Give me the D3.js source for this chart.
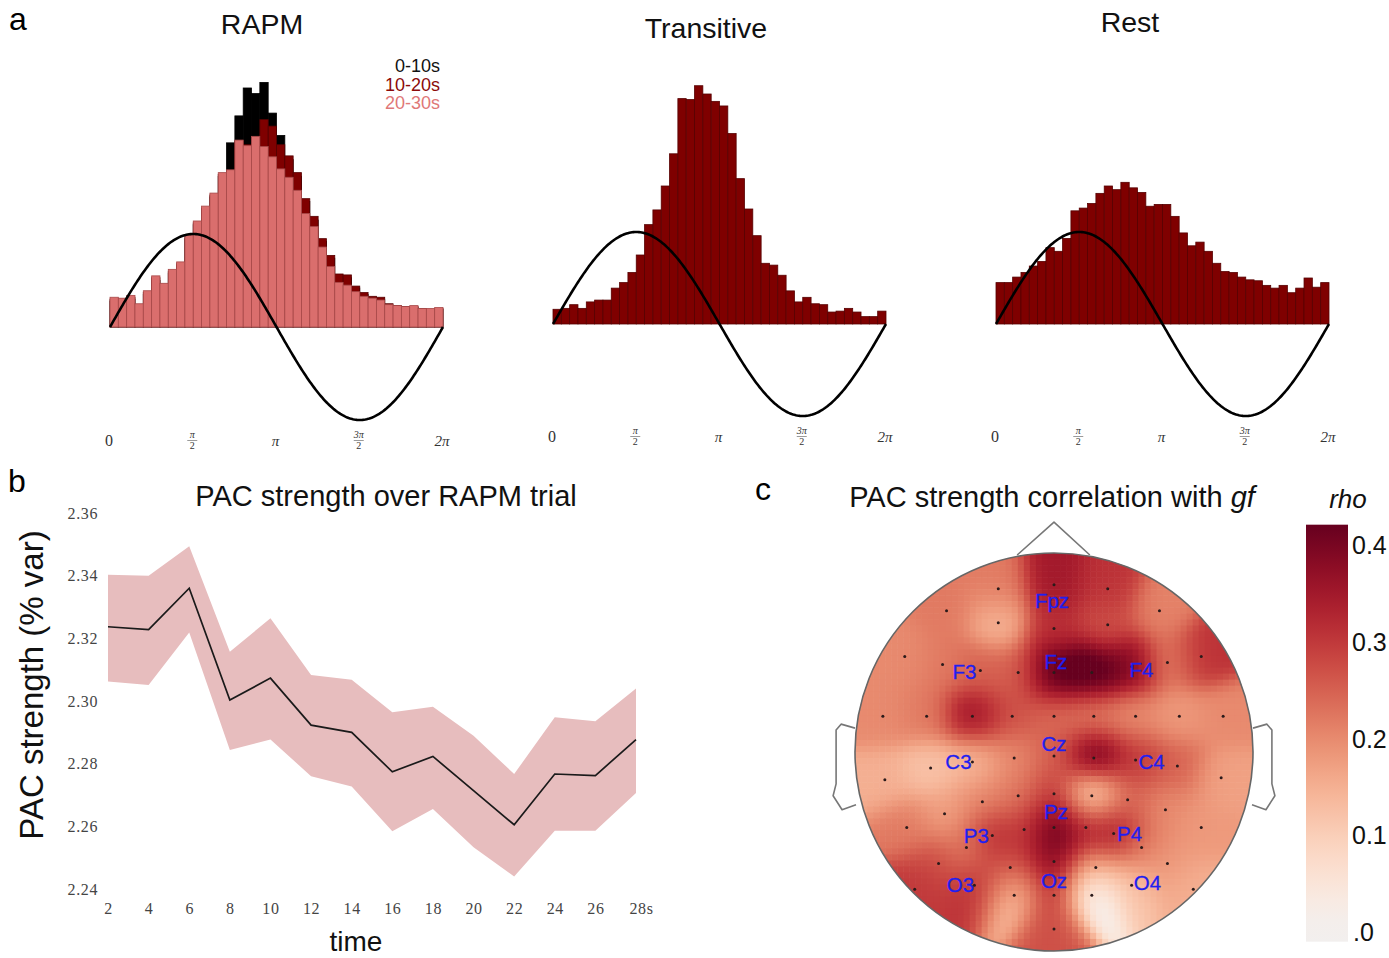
<!DOCTYPE html>
<html>
<head>
<meta charset="utf-8">
<script src="https://cdnjs.cloudflare.com/ajax/libs/d3/7.8.5/d3.min.js"></script>
<style>
  body { margin: 0; background: #fff; }
  svg { display: block; font-family: "Liberation Sans", Arial, sans-serif; }
</style>
</head>
<body>
<script>

// ---- panel a : phase histograms (40 bins over 0..2pi, height relative to sine amplitude)
var phaseTickValues = [0, Math.PI / 2, Math.PI, 3 * Math.PI / 2, 2 * Math.PI];
var phaseTickLabels = [["0"], ["π", "2"], ["π"], ["3π", "2"], ["2π"]];

var rapmWindows = ["0-10s", "10-20s", "20-30s"];

var rapmEarly = [0.28, 0.29, 0.30, 0.22, 0.35, 0.50, 0.44, 0.58, 0.66, 0.95,
  1.10, 1.26, 1.40, 1.62, 1.98, 2.27, 2.57, 2.51, 2.63, 2.30,
  2.06, 1.80, 1.62, 1.35, 1.15, 0.92, 0.74, 0.55, 0.53, 0.42,
  0.35, 0.31, 0.30, 0.23, 0.22, 0.21, 0.21, 0.19, 0.18, 0.19];

var rapmMid = [0.30, 0.30, 0.32, 0.24, 0.37, 0.53, 0.46, 0.60, 0.68, 0.97,
  1.12, 1.28, 1.42, 1.64, 1.67, 2.00, 1.96, 2.04, 2.23, 2.16,
  1.96, 1.84, 1.66, 1.38, 1.19, 0.95, 0.77, 0.57, 0.56, 0.44,
  0.37, 0.33, 0.32, 0.25, 0.23, 0.22, 0.22, 0.20, 0.19, 0.20];

var rapmLate = [0.32, 0.31, 0.34, 0.25, 0.39, 0.55, 0.47, 0.62, 0.70, 0.99,
  1.14, 1.30, 1.44, 1.66, 1.69, 2.01, 1.95, 2.05, 1.94, 1.83,
  1.70, 1.61, 1.47, 1.22, 1.08, 0.86, 0.65, 0.48, 0.45, 0.38,
  0.33, 0.31, 0.29, 0.24, 0.23, 0.22, 0.23, 0.20, 0.20, 0.21];

var transitiveHist = [0.16, 0.17, 0.21, 0.17, 0.24, 0.26, 0.26, 0.39, 0.45, 0.56,
  0.75, 1.08, 1.24, 1.50, 1.85, 2.45, 2.44, 2.59, 2.50, 2.42,
  2.37, 2.07, 1.58, 1.25, 0.96, 0.66, 0.64, 0.53, 0.36, 0.24,
  0.29, 0.22, 0.21, 0.13, 0.14, 0.17, 0.13, 0.08, 0.08, 0.14];

var restHist = [0.45, 0.45, 0.51, 0.56, 0.63, 0.68, 0.83, 0.79, 0.93, 1.23,
  1.26, 1.31, 1.42, 1.50, 1.46, 1.54, 1.48, 1.43, 1.28, 1.30,
  1.30, 1.17, 0.99, 0.85, 0.89, 0.79, 0.66, 0.57, 0.56, 0.51,
  0.48, 0.47, 0.42, 0.39, 0.42, 0.34, 0.39, 0.50, 0.40, 0.45];

// ---- panel b : PAC strength over RAPM trial
var timeSec = [2, 4, 6, 8, 10, 12, 14, 16, 18, 20, 22, 24, 26, 28];
var pacMean  = [2.3237, 2.3228, 2.3360, 2.3003, 2.3073, 2.2923, 2.2900, 2.2774, 2.2823, 2.2714, 2.2605, 2.2767, 2.2762, 2.2877];
var pacUpper = [2.3403, 2.3400, 2.3494, 2.3157, 2.3264, 2.3083, 2.3068, 2.2964, 2.2982, 2.2889, 2.2767, 2.2948, 2.2935, 2.3040];
var pacLower = [2.3062, 2.3051, 2.3219, 2.2844, 2.2877, 2.2760, 2.2727, 2.2584, 2.2655, 2.2533, 2.2440, 2.2586, 2.2586, 2.2706];
var pacTicks = [2.24, 2.26, 2.28, 2.30, 2.32, 2.34, 2.36];

// ---- panel c : electrode layout (unit head circle) and rho with gf
var electrodes = [
  {x: -0.28, y: -0.82, rho: 0.22}, {x: 0.00, y: -0.84, rho: 0.35}, {x: 0.27, y: -0.82, rho: 0.31},
  {x: -0.54, y: -0.71, rho: 0.22}, {x: -0.28, y: -0.65, rho: 0.14}, {x: 0.00, y: -0.62, rho: 0.31},
  {x: 0.27, y: -0.64, rho: 0.27}, {x: 0.53, y: -0.71, rho: 0.21},
  {x: -0.75, y: -0.48, rho: 0.20}, {x: -0.56, y: -0.44, rho: 0.22}, {x: -0.37, y: -0.41, rho: 0.25},
  {x: -0.18, y: -0.40, rho: 0.25}, {x: 0.00, y: -0.40, rho: 0.45}, {x: 0.19, y: -0.40, rho: 0.45},
  {x: 0.39, y: -0.43, rho: 0.40}, {x: 0.57, y: -0.45, rho: 0.21}, {x: 0.74, y: -0.48, rho: 0.31},
  {x: -0.86, y: -0.18, rho: 0.20}, {x: -0.64, y: -0.18, rho: 0.22}, {x: -0.41, y: -0.18, rho: 0.36},
  {x: -0.21, y: -0.18, rho: 0.27}, {x: 0.00, y: -0.18, rho: 0.24}, {x: 0.20, y: -0.18, rho: 0.22},
  {x: 0.41, y: -0.18, rho: 0.20}, {x: 0.63, y: -0.18, rho: 0.18}, {x: 0.85, y: -0.18, rho: 0.20},
  {x: -0.85, y: 0.14, rho: 0.15}, {x: -0.62, y: 0.08, rho: 0.12}, {x: -0.41, y: 0.05, rho: 0.14},
  {x: -0.20, y: 0.03, rho: 0.20}, {x: 0.00, y: 0.02, rho: 0.25}, {x: 0.20, y: 0.03, rho: 0.43},
  {x: 0.41, y: 0.04, rho: 0.30}, {x: 0.62, y: 0.07, rho: 0.25}, {x: 0.84, y: 0.13, rho: 0.17},
  {x: -0.55, y: 0.31, rho: 0.17}, {x: -0.36, y: 0.25, rho: 0.20}, {x: -0.18, y: 0.22, rho: 0.22},
  {x: 0.00, y: 0.21, rho: 0.30}, {x: 0.19, y: 0.22, rho: 0.04}, {x: 0.37, y: 0.24, rho: 0.25},
  {x: 0.56, y: 0.29, rho: 0.20},
  {x: -0.74, y: 0.38, rho: 0.22}, {x: -0.31, y: 0.42, rho: 0.34}, {x: -0.15, y: 0.39, rho: 0.28},
  {x: 0.00, y: 0.38, rho: 0.45}, {x: 0.16, y: 0.38, rho: 0.33}, {x: 0.30, y: 0.41, rho: 0.36},
  {x: 0.74, y: 0.38, rho: 0.18},
  {x: -0.44, y: 0.48, rho: 0.20}, {x: 0.44, y: 0.48, rho: 0.22},
  {x: -0.58, y: 0.56, rho: 0.28}, {x: -0.22, y: 0.58, rho: 0.27}, {x: 0.00, y: 0.55, rho: 0.38},
  {x: 0.21, y: 0.58, rho: 0.16}, {x: 0.57, y: 0.56, rho: 0.18},
  {x: -0.70, y: 0.69, rho: 0.30}, {x: -0.40, y: 0.67, rho: 0.31}, {x: -0.20, y: 0.72, rho: 0.12},
  {x: 0.00, y: 0.72, rho: 0.31}, {x: 0.19, y: 0.72, rho: -0.02}, {x: 0.39, y: 0.67, rho: 0.12},
  {x: 0.70, y: 0.69, rho: 0.15},
  {x: 0.00, y: 0.89, rho: 0.27}
];

var labelNames = ["Fpz", "Fz", "F3", "F4", "C3", "Cz", "C4", "P3", "Pz", "P4", "O3", "Oz", "O4"];
var labelX = [-0.01, 0.01, -0.45, 0.44, -0.48, 0.00, 0.49, -0.39, 0.01, 0.38, -0.47, 0.00, 0.47];
var labelY = [-0.76, -0.45, -0.40, -0.41, 0.05, -0.04, 0.05, 0.42, 0.30, 0.41, 0.67, 0.65, 0.66];

var rhoTicks = [0, 0.1, 0.2, 0.3, 0.4];

// ------------------------------------------------------------------
var svg = d3.select("body").append("svg")
  .attr("width", 1389)
  .attr("height", 958);

svg.append("rect").attr("width", 1389).attr("height", 958).attr("fill", "#fff");

// panel letters
svg.append("text").attr("x", 9).attr("y", 30).attr("font-size", 32).text("a");
svg.append("text").attr("x", 8).attr("y", 492).attr("font-size", 32).text("b");
svg.append("text").attr("x", 755).attr("y", 500).attr("font-size", 32).text("c");

function drawHist(cfg, series) {
  var g = svg.append("g");
  var x = d3.scaleLinear().domain([0, 2 * Math.PI]).range([cfg.x0, cfg.x1]);
  var y = d3.scaleLinear().domain([-1, 1]).range([cfg.base + cfg.amp, cfg.base - cfg.amp]);
  var binW = 2 * Math.PI / 40;

  series.forEach(function(s) {
    g.append("g").selectAll("rect")
      .data(s.values)
      .join("rect")
      .attr("x", (d, i) => x(i * binW))
      .attr("width", x(binW) - x(0))
      .attr("y", d => y(d))
      .attr("height", d => y(0) - y(d))
      .attr("fill", s.fill)
      .attr("stroke", s.edge)
      .attr("stroke-width", 0.8);
  });

  // reference phase of the low frequency oscillation
  var phase = d3.range(0, 2 * Math.PI + 0.0001, Math.PI / 120);
  g.append("path")
    .datum(phase)
    .attr("fill", "none")
    .attr("stroke", "#000")
    .attr("stroke-width", 2.6)
    .attr("d", d3.line().x(d => x(d)).y(d => y(Math.sin(d))));

  // phase tick labels
  var ticks = g.selectAll("g.ptick")
    .data(phaseTickValues)
    .join("g")
    .attr("class", "ptick")
    .attr("transform", d => `translate(${x(d) - 1}, ${cfg.tickY})`)
    .attr("font-family", "'Liberation Serif', 'DejaVu Serif', serif")
    .attr("fill", "#333")
    .attr("text-anchor", "middle");

  ticks.each(function(d, i) {
    var lab = phaseTickLabels[i];
    var t = d3.select(this);
    if (lab.length === 1) {
      t.append("text").attr("y", 5).attr("font-size", i === 0 ? 16 : 15)
        .attr("font-style", i === 0 ? "normal" : "italic").text(lab[0]);
    } else {
      t.append("text").attr("y", -3).attr("font-size", 10).attr("font-style", "italic").text(lab[0]);
      t.append("line").attr("x1", -5).attr("x2", 5).attr("y1", -0.5).attr("y2", -0.5)
        .attr("stroke", "#555").attr("stroke-width", 0.6);
      t.append("text").attr("y", 8).attr("font-size", 10).text(lab[1]);
    }
  });

  g.append("text")
    .attr("x", cfg.titleX).attr("y", cfg.titleY)
    .attr("text-anchor", "middle")
    .attr("font-size", 28.5)
    .attr("fill", "#111")
    .text(cfg.title);
  return g;
}

var pinkFill = "#da6e6d", pinkEdge = "#a84a4a";
var redFill = "#7f0000", redEdge = "#560000";

drawHist({x0: 110, x1: 443, base: 327, amp: 93, tickY: 441, title: "RAPM", titleX: 262, titleY: 34},
  [{values: rapmEarly, fill: "#000", edge: "#000"},
   {values: rapmMid, fill: redFill, edge: redEdge},
   {values: rapmLate, fill: pinkFill, edge: pinkEdge}]);

drawHist({x0: 553, x1: 886, base: 324, amp: 92, tickY: 437, title: "Transitive", titleX: 706, titleY: 38},
  [{values: transitiveHist, fill: redFill, edge: redEdge}]);

drawHist({x0: 996, x1: 1329, base: 324, amp: 92, tickY: 437, title: "Rest", titleX: 1130, titleY: 32},
  [{values: restHist, fill: redFill, edge: redEdge}]);

// RAPM window legend
var legendColors = ["#111", "#8b0a0a", "#df7878"];
svg.append("g").selectAll("text")
  .data(rapmWindows)
  .join("text")
  .attr("x", 440)
  .attr("y", (d, i) => 72 + i * 18.5)
  .attr("text-anchor", "end")
  .attr("font-size", 18)
  .attr("fill", (d, i) => legendColors[i])
  .text(d => d);

// ---- panel b
var xT = d3.scaleLinear().domain([2, 28]).range([108, 636]);
var yP = d3.scaleLinear().domain([2.24, 2.36]).range([889, 513]);

var gb = svg.append("g");

gb.append("path")
  .datum(timeSec)
  .attr("fill", "#e7bdbe")
  .attr("d", d3.area()
    .x(d => xT(d))
    .y0((d, i) => yP(pacLower[i]))
    .y1((d, i) => yP(pacUpper[i])));

gb.append("path")
  .datum(timeSec)
  .attr("fill", "none")
  .attr("stroke", "#1a1a1a")
  .attr("stroke-width", 1.7)
  .attr("d", d3.line().x(d => xT(d)).y((d, i) => yP(pacMean[i])));

var xAxisB = gb.append("g")
  .attr("transform", "translate(0, 889)")
  .call(d3.axisBottom(xT).tickValues(timeSec).tickSize(0).tickPadding(14)
    .tickFormat(d => d === 28 ? "28s" : d));
var yAxisB = gb.append("g")
  .attr("transform", "translate(108, 0)")
  .call(d3.axisLeft(yP).tickValues(pacTicks).tickSize(0).tickPadding(10).tickFormat(d3.format(".2f")));

[xAxisB, yAxisB].forEach(function(a) {
  a.select(".domain").remove();
  a.selectAll("text")
    .attr("font-family", "'Liberation Serif', 'DejaVu Serif', serif")
    .attr("font-size", 16)
    .attr("letter-spacing", 0.6)
    .attr("fill", "#444");
});
xAxisB.selectAll("text").filter(d => d === 28).attr("dx", 5);

gb.append("text")
  .attr("x", 386).attr("y", 506)
  .attr("text-anchor", "middle")
  .attr("font-size", 29)
  .attr("fill", "#111")
  .text("PAC strength over RAPM trial");

gb.append("text")
  .attr("transform", "translate(43, 685) rotate(-90)")
  .attr("text-anchor", "middle")
  .attr("font-size", 33)
  .attr("fill", "#111")
  .text("PAC strength (% var)");

gb.append("text")
  .attr("x", 356).attr("y", 951)
  .attr("text-anchor", "middle")
  .attr("font-size", 28)
  .attr("fill", "#111")
  .text("time");

// ---- panel c
var headCx = 1054, headCy = 752, headR = 199;
var hx = d3.scaleLinear().domain([-1, 1]).range([headCx - headR, headCx + headR]);
var hy = d3.scaleLinear().domain([-1, 1]).range([headCy - headR, headCy + headR]);

var rhoColor = d3.scaleSequential(t => d3.interpolateRdBu(0.5 - 0.5 * t))
  .domain([0, 0.42])
  .clamp(true);

// smooth the electrode values onto a coarse grid
var nCells = 66, step = 2 / nCells, sigma = 0.095;
var grid = [];
for (var r = 0; r < nCells; r++) {
  for (var c = 0; c < nCells; c++) {
    var gx = -1 + (c + 0.5) * step, gy = -1 + (r + 0.5) * step;
    if (gx * gx + gy * gy > 1.08) continue;
    var ws = 0, vs = 0;
    electrodes.forEach(function(e) {
      var d2 = (e.x - gx) * (e.x - gx) + (e.y - gy) * (e.y - gy);
      var w = Math.exp(-d2 / (2 * sigma * sigma));
      ws += w; vs += w * e.rho;
    });
    grid.push({x: -1 + c * step, y: -1 + r * step, v: vs / ws});
  }
}

var gc = svg.append("g");

gc.append("clipPath").attr("id", "headClip")
  .append("circle").attr("cx", headCx).attr("cy", headCy).attr("r", headR);

gc.append("g").attr("clip-path", "url(#headClip)")
  .selectAll("rect")
  .data(grid)
  .join("rect")
  .attr("x", d => hx(d.x))
  .attr("y", d => hy(d.y))
  .attr("width", hx(step) - hx(0) + 0.6)
  .attr("height", hy(step) - hy(0) + 0.6)
  .attr("fill", d => rhoColor(d.v));

gc.append("circle")
  .attr("cx", headCx).attr("cy", headCy).attr("r", headR)
  .attr("fill", "none").attr("stroke", "#666").attr("stroke-width", 1.6);

var outline = d3.line().x(d => hx(d[0])).y(d => hy(d[1]));
var nose = [[-0.185, -0.99], [0, -1.155], [0.18, -0.99]];
var leftEar = [[-1.0, -0.12], [-1.07, -0.14], [-1.095, -0.11], [-1.095, 0.16], [-1.11, 0.22], [-1.065, 0.29], [-0.995, 0.265]];
var rightEar = leftEar.map(p => [-p[0], p[1]]);
[nose, leftEar, rightEar].forEach(function(p) {
  gc.append("path").datum(p).attr("d", outline)
    .attr("fill", "none").attr("stroke", "#777").attr("stroke-width", 1.6)
    .attr("stroke-linejoin", "round");
});

gc.append("g").selectAll("circle")
  .data(electrodes)
  .join("circle")
  .attr("cx", d => hx(d.x))
  .attr("cy", d => hy(d.y))
  .attr("r", 1.5)
  .attr("fill", "#2a1a1a");

gc.append("g").selectAll("text")
  .data(labelNames)
  .join("text")
  .attr("x", (d, i) => hx(labelX[i]))
  .attr("y", (d, i) => hy(labelY[i]) + 7)
  .attr("text-anchor", "middle")
  .attr("font-size", 20.5)
  .attr("fill", "#1f1ff0")
  .attr("stroke", "#1f1ff0")
  .attr("stroke-width", 0.3)
  .text(d => d);

var titleC = gc.append("text")
  .attr("x", 1052).attr("y", 507)
  .attr("text-anchor", "middle")
  .attr("font-size", 29)
  .attr("fill", "#111");
titleC.append("tspan").text("PAC strength correlation with ");
titleC.append("tspan").attr("font-style", "italic").text("gf");

// colour bar
var cbY = d3.scaleLinear().domain([0, 0.4]).range([932, 545]);
var cbTop = cbY(0.421), cbBot = cbY(-0.01);
var grad = svg.append("defs").append("linearGradient")
  .attr("id", "rhoGrad")
  .attr("x1", 0).attr("y1", 1).attr("x2", 0).attr("y2", 0);
d3.range(0, 1.0001, 0.05).forEach(function(t) {
  grad.append("stop")
    .attr("offset", t)
    .attr("stop-color", rhoColor(-0.01 + t * 0.431));
});
gc.append("rect")
  .attr("x", 1306).attr("y", cbTop)
  .attr("width", 42).attr("height", cbBot - cbTop)
  .attr("fill", "url(#rhoGrad)");

gc.append("g").selectAll("text")
  .data(rhoTicks)
  .join("text")
  .attr("x", d => d === 0 ? 1353 : 1352)
  .attr("y", d => cbY(d) + 9)
  .attr("font-size", 25)
  .attr("fill", "#111")
  .text(d => d === 0 ? ".0" : d.toFixed(1));

gc.append("text")
  .attr("x", 1348).attr("y", 508)
  .attr("text-anchor", "middle")
  .attr("font-size", 26)
  .attr("font-style", "italic")
  .attr("fill", "#111")
  .text("rho");

</script>
</body>
</html>
